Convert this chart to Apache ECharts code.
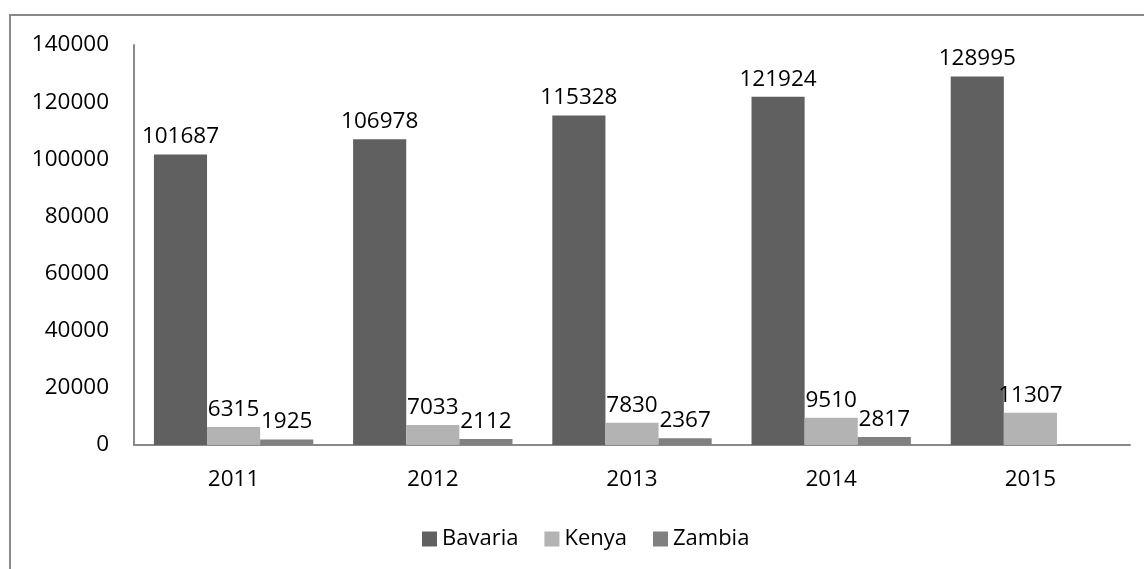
<!DOCTYPE html>
<html>
<head>
<meta charset="utf-8">
<script src="https://cdn.jsdelivr.net/npm/echarts@6/dist/echarts.min.js"></script>
<style>
html,body{margin:0;padding:0;background:#fff;}
#chart{width:1144px;height:569px;}
</style>
</head>
<body>
<div id="chart"></div>
<script>
const categories = ['2011', '2012', '2013', '2014', '2015'];
const bavaria = [101687, 106978, 115328, 121924, 128995];
const kenya = [6315, 7033, 7830, 9510, 11307];
const zambia = [1925, 2112, 2367, 2817, null];
const yTicks = [0, 20000, 40000, 60000, 80000, 100000, 120000, 140000];

const FONT = 'Open Sans';
const FS = 22.5;
const chart = echarts.init(document.getElementById('chart'), null, {renderer: 'canvas'});
const labelStyle = {show: true, position: 'top', color: '#000', fontFamily: FONT, fontSize: FS, distance: 6};
chart.setOption({
  animation: false,
  backgroundColor: '#fff',
  graphic: [{
    type: 'rect',
    shape: {x: 10, y: 15, width: 1160, height: 600},
    style: {fill: 'none', stroke: '#898989', lineWidth: 2},
    silent: true
  }],
  grid: {left: 134, right: 14, top: 45, bottom: 124, containLabel: false},
  legend: {
    top: 523,
    left: 417,
    itemWidth: 15,
    itemHeight: 15,
    itemGap: 26,
    icon: 'rect',
    textStyle: {fontFamily: FONT, fontSize: 22, color: '#000'},
    data: ['Bavaria', 'Kenya', 'Zambia']
  },
  xAxis: {
    type: 'category',
    data: categories,
    axisLine: {lineStyle: {color: '#898989', width: 2}},
    axisTick: {show: false},
    axisLabel: {color: '#000', fontFamily: FONT, fontSize: FS, margin: 23}
  },
  yAxis: {
    type: 'value',
    min: yTicks[0],
    max: yTicks[yTicks.length - 1],
    interval: 20000,
    axisLine: {show: true, lineStyle: {color: '#898989', width: 2}},
    axisTick: {show: false},
    splitLine: {show: false},
    axisLabel: {color: '#000', fontFamily: FONT, fontSize: FS, margin: 25, align: 'right',
      formatter: function (v) { return String(v); }}
  },
  series: [
    {name: 'Bavaria', type: 'bar', data: bavaria, itemStyle: {color: '#606060'}, barGap: '0%', barCategoryGap: '20%', label: labelStyle},
    {name: 'Kenya', type: 'bar', data: kenya, itemStyle: {color: '#b3b3b3'}, label: labelStyle},
    {name: 'Zambia', type: 'bar', data: zambia, itemStyle: {color: '#808080'}, label: labelStyle}
  ]
});
</script>
</body>
</html>
